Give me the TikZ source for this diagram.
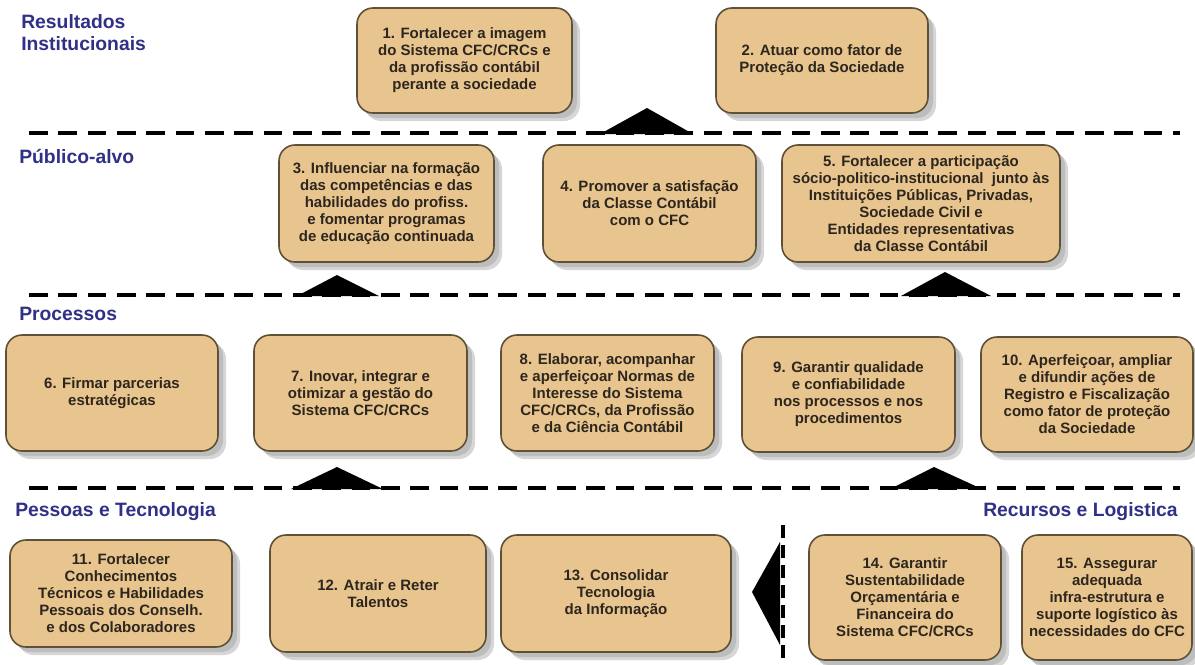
\documentclass[tikz,border=0pt]{standalone}
\usepackage{fontspec}
\setmainfont{Liberation Sans}
\definecolor{boxfill}{RGB}{232,197,142}
\definecolor{boxline}{RGB}{95,80,55}
\definecolor{labc}{RGB}{48,48,135}
\definecolor{txtc}{RGB}{45,38,30}
\tikzset{
 boxst/.style={draw=boxline, line width=1.2pt, fill=boxfill, rounded corners=12pt, align=center, text=txtc, font=\bfseries\fontsize{11.25}{12.75}\selectfont, inner sep=0pt},
 shad/.style={fill=black!16, rounded corners=12pt},
 shadb/.style={fill=black!26, rounded corners=12pt},
 sepline/.style={line width=3pt, dash pattern=on 14pt off 8pt},
 vsepline/.style={line width=2.5pt, dash pattern=on 10pt off 5pt},
 tri/.style={fill=black},
 lab/.style={text=labc, font=\bfseries\fontsize{14.5}{16.5}\selectfont, inner sep=0pt}
}
\newcommand\mybox[6]{%
 \fill[shad] ({#2+8},{#3+8}) rectangle ({#4+8},{#5+8});
 \fill[shadb] ({#2+5},{#3+5}) rectangle ({#4+5},{#5+5});
 \node[boxst, minimum width={(#4-#2)*0.75pt}, minimum height={(#5-#3)*0.75pt}] (#1) at ({(#2+#4)/2},{(#3+#5)/2}) {#6};
}
\begin{document}
\begin{tikzpicture}[x=0.75pt,y=-0.75pt]
\useasboundingbox[fill=white] (0,0) rectangle (1195,664);
% separators
\draw[sepline] (29,133) -- (1180,133);
\draw[sepline] (29,295) -- (1180,295);
\draw[sepline] (29,488) -- (1180,488);
\draw[vsepline] (783,525) -- (783,662);
% triangles
\fill[tri] (600,134) -- (693,134) -- (647,108) -- cycle;
\fill[tri] (297,296) -- (379,296) -- (337,275) -- cycle;
\fill[tri] (901,296) -- (991,296) -- (945,272) -- cycle;
\fill[tri] (291,489) -- (383,489) -- (337,467) -- cycle;
\fill[tri] (890,489) -- (982,489) -- (934,467) -- cycle;
\fill[tri] (780,542) -- (780,645) -- (752,592) -- cycle;
% labels
\node[lab, anchor=base west] (lres1) at (21,28) {Resultados};
\node[lab, anchor=base west] (lres2) at (21,50) {Institucionais};
\node[lab, anchor=base west] (lpub) at (19,163) {Público-alvo};
\node[lab, anchor=base west] (lproc) at (19,320) {Processos};
\node[lab, anchor=base west] (lpes) at (15,516) {Pessoas e Tecnologia};
\node[lab, anchor=base east] (lrec) at (1178,516) {Recursos e Logistica};
% boxes
\mybox{b1}{357}{8}{572}{113}{1. Fortalecer a imagem\\do Sistema CFC/CRCs e\\da profissão contábil\\perante a sociedade}
\mybox{b2}{716}{8}{928}{113}{2. Atuar como fator de\\Proteção da Sociedade}
\mybox{b3}{279}{145}{494}{262}{3. Influenciar na formação\\das competências e das\\habilidades do profiss.\\e fomentar programas\\de educação continuada}
\mybox{b4}{543}{145}{756}{262}{4. Promover a satisfação\\da Classe Contábil\\com o CFC}
\mybox{b5}{782}{145}{1060}{262}{5. Fortalecer a participação\\sócio-politico-institucional\ \ junto às\\Instituições Públicas, Privadas,\\Sociedade Civil e\\Entidades representativas\\da Classe Contábil}
\mybox{b6}{6}{335}{218}{451}{6. Firmar parcerias\\estratégicas}
\mybox{b7}{254}{335}{467}{451}{7. Inovar, integrar e\\otimizar a gestão do\\Sistema CFC/CRCs}
\mybox{b8}{501}{335}{714}{451}{8. Elaborar, acompanhar\\e aperfeiçoar Normas de\\Interesse do Sistema\\CFC/CRCs, da Profissão\\e da Ciência Contábil}
\mybox{b9}{742}{337}{955}{452}{9. Garantir qualidade\\e confiabilidade\\nos processos e nos\\procedimentos}
\mybox{b10}{981}{337}{1193}{452}{10. Aperfeiçoar, ampliar\\e difundir ações de\\Registro e Fiscalização\\como fator de proteção\\da Sociedade}
\mybox{b11}{10}{540}{232}{647}{11. Fortalecer\\Conhecimentos\\Técnicos e Habilidades\\Pessoais dos Conselh.\\e dos Colaboradores}
\mybox{b12}{270}{535}{486}{652}{12. Atrair e Reter\\Talentos}
\mybox{b13}{501}{535}{731}{652}{13. Consolidar\\Tecnologia\\da Informação}
\mybox{b14}{809}{535}{1001}{660}{14. Garantir\\Sustentabilidade\\Orçamentária e\\Financeira do\\Sistema CFC/CRCs}
\mybox{b15}{1022}{535}{1192}{660}{15. Assegurar\\adequada\\infra-estrutura e\\suporte logístico às\\necessidades do CFC}
\end{tikzpicture}
\end{document}
